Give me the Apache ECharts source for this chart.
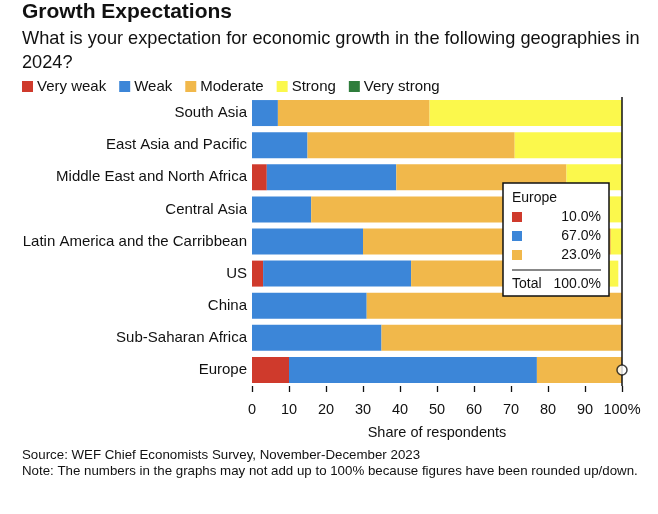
<!DOCTYPE html>
<html><head><meta charset="utf-8">
<script src="https://cdn.jsdelivr.net/npm/echarts@6/dist/echarts.min.js"></script>
<style>html,body{margin:0;padding:0;background:#fff}#c{width:658px;height:514px}</style>
</head><body><div id="c"></div>
<script>
const categories = ["South Asia","East Asia and Pacific","Middle East and North Africa","Central Asia","Latin America and the Carribbean","US","China","Sub-Saharan Africa","Europe"];
const veryWeak   = [0, 0, 4, 0, 0, 3, 0, 0, 10];
const weak       = [7, 15, 35, 16, 30, 40, 31, 35, 67];
const moderate   = [41, 56, 46, 80, 67, 53, 69, 65, 23];
const strong     = [52, 30, 15, 4, 3, 3, 0, 0, 0];
const veryStrong = [0, 0, 0, 0, 0, 0, 0, 0, 0];
const tickLabels = ["0","10","20","30","40","50","60","70","80","90","100%"];
const seriesNames = ["Very weak","Weak","Moderate","Strong","Very strong"];
const colors = ["#cf3a2c","#3c86d8","#f1b84b","#fbf84c","#2f7d3c"];
const highlighted = "Europe";

const font = "'Liberation Sans', Arial, Helvetica, sans-serif";
const chart = echarts.init(document.getElementById('c'));
const allData = [veryWeak, weak, moderate, strong, veryStrong];
const series = allData.map((d, i) => ({
  name: seriesNames[i], type: 'bar', stack: 'total', data: d, barWidth: 26,
  itemStyle: {color: colors[i]}, silent: true
}));
const hi = categories.indexOf(highlighted);
series.push({
  type: 'scatter', data: [[100, highlighted]], symbolSize: 10, z: 10,
  itemStyle: {color: '#fff', borderColor: '#111', borderWidth: 1.5}, silent: true,
  markLine: {symbol: 'none', silent: true, label: {show: false},
    lineStyle: {color: '#111', width: 1.5, type: 'solid'}, data: [{xAxis: 100}]}
});

// tooltip-like box
const vals = allData.map(d => d[hi]);
const rows = [];
vals.forEach((v, i) => { if (v > 0) rows.push({i, v}); });
const boxX = 503, boxY = 183, boxW = 106;
const Z = {zlevel: 5, z: 100};
const els = [
  Object.assign({type: 'rect', shape: {x: boxX, y: boxY, width: boxW, height: 113}, style: {fill: '#fff', stroke: '#111', lineWidth: 1.5}}, Z),
  Object.assign({type: 'text', x: boxX + 9, y: boxY + 8, style: {text: highlighted, font: '14px ' + font, fill: '#111'}}, Z)
];
rows.forEach((r, k) => {
  const ry = boxY + 29 + k * 19;
  els.push(Object.assign({type: 'rect', shape: {x: boxX + 9, y: ry, width: 10, height: 10}, style: {fill: colors[r.i]}}, Z));
  els.push(Object.assign({type: 'text', x: boxX + 98, y: ry - 2, style: {text: r.v.toFixed(1) + '%', font: '14px ' + font, fill: '#111', align: 'right'}}, Z));
});
const total = vals.reduce((a, b) => a + b, 0);
const ly = boxY + 29 + rows.length * 19 + 1;
els.push(Object.assign({type: 'line', shape: {x1: boxX + 9, y1: ly, x2: boxX + 98, y2: ly}, style: {stroke: '#111', lineWidth: 1}}, Z));
els.push(Object.assign({type: 'text', x: boxX + 9, y: ly + 7, style: {text: 'Total', font: '14px ' + font, fill: '#111'}}, Z));
els.push(Object.assign({type: 'text', x: boxX + 98, y: ly + 7, style: {text: total.toFixed(1) + '%', font: '14px ' + font, fill: '#111', align: 'right'}}, Z));

chart.setOption({
  animation: false,
  textStyle: {fontFamily: font},
  title: [
    {text: 'Growth Expectations', left: 17, top: -3, textStyle: {fontSize: 21, fontWeight: 'bold', color: '#111', fontFamily: font}},
    {text: 'What is your expectation for economic growth in the following geographies in\n2024?', left: 17, top: 22,
     textStyle: {fontSize: 18.2, fontWeight: 'normal', color: '#111', lineHeight: 24, fontFamily: font}},
    {text: 'Source: WEF Chief Economists Survey, November-December 2023\nNote: The numbers in the graphs may not add up to 100% because figures have been rounded up/down.',
     left: 17, top: 442, textStyle: {fontSize: 13.3, fontWeight: 'normal', color: '#111', lineHeight: 16, fontFamily: font}}
  ],
  legend: {
    data: seriesNames, left: 17, top: 74, itemWidth: 11, itemHeight: 11, itemGap: 13,
    icon: 'rect', selectedMode: false,
    textStyle: {fontSize: 15, color: '#111', fontFamily: font, padding: [0, 0, 0, -1]}
  },
  grid: {left: 252, right: 36, top: 97, bottom: 128, containLabel: false},
  xAxis: {
    type: 'value', min: 0, max: 100, interval: 10,
    name: 'Share of respondents', nameLocation: 'middle', nameGap: 39,
    nameTextStyle: {fontSize: 14.5, color: '#111', fontFamily: font},
    axisLine: {show: false},
    axisTick: {show: true, length: 6, lineStyle: {color: '#111', width: 1.3}},
    splitLine: {show: false},
    axisLabel: {fontSize: 14.5, color: '#111', margin: 16, fontFamily: font,
      formatter: v => tickLabels[Math.round(v / 10)]}
  },
  yAxis: {
    type: 'category', data: categories, inverse: true,
    axisLine: {show: false}, axisTick: {show: false},
    axisLabel: {fontSize: 15, color: '#111', margin: 5, fontFamily: font}
  },
  series: series,
  graphic: {elements: els}
});
</script></body></html>
